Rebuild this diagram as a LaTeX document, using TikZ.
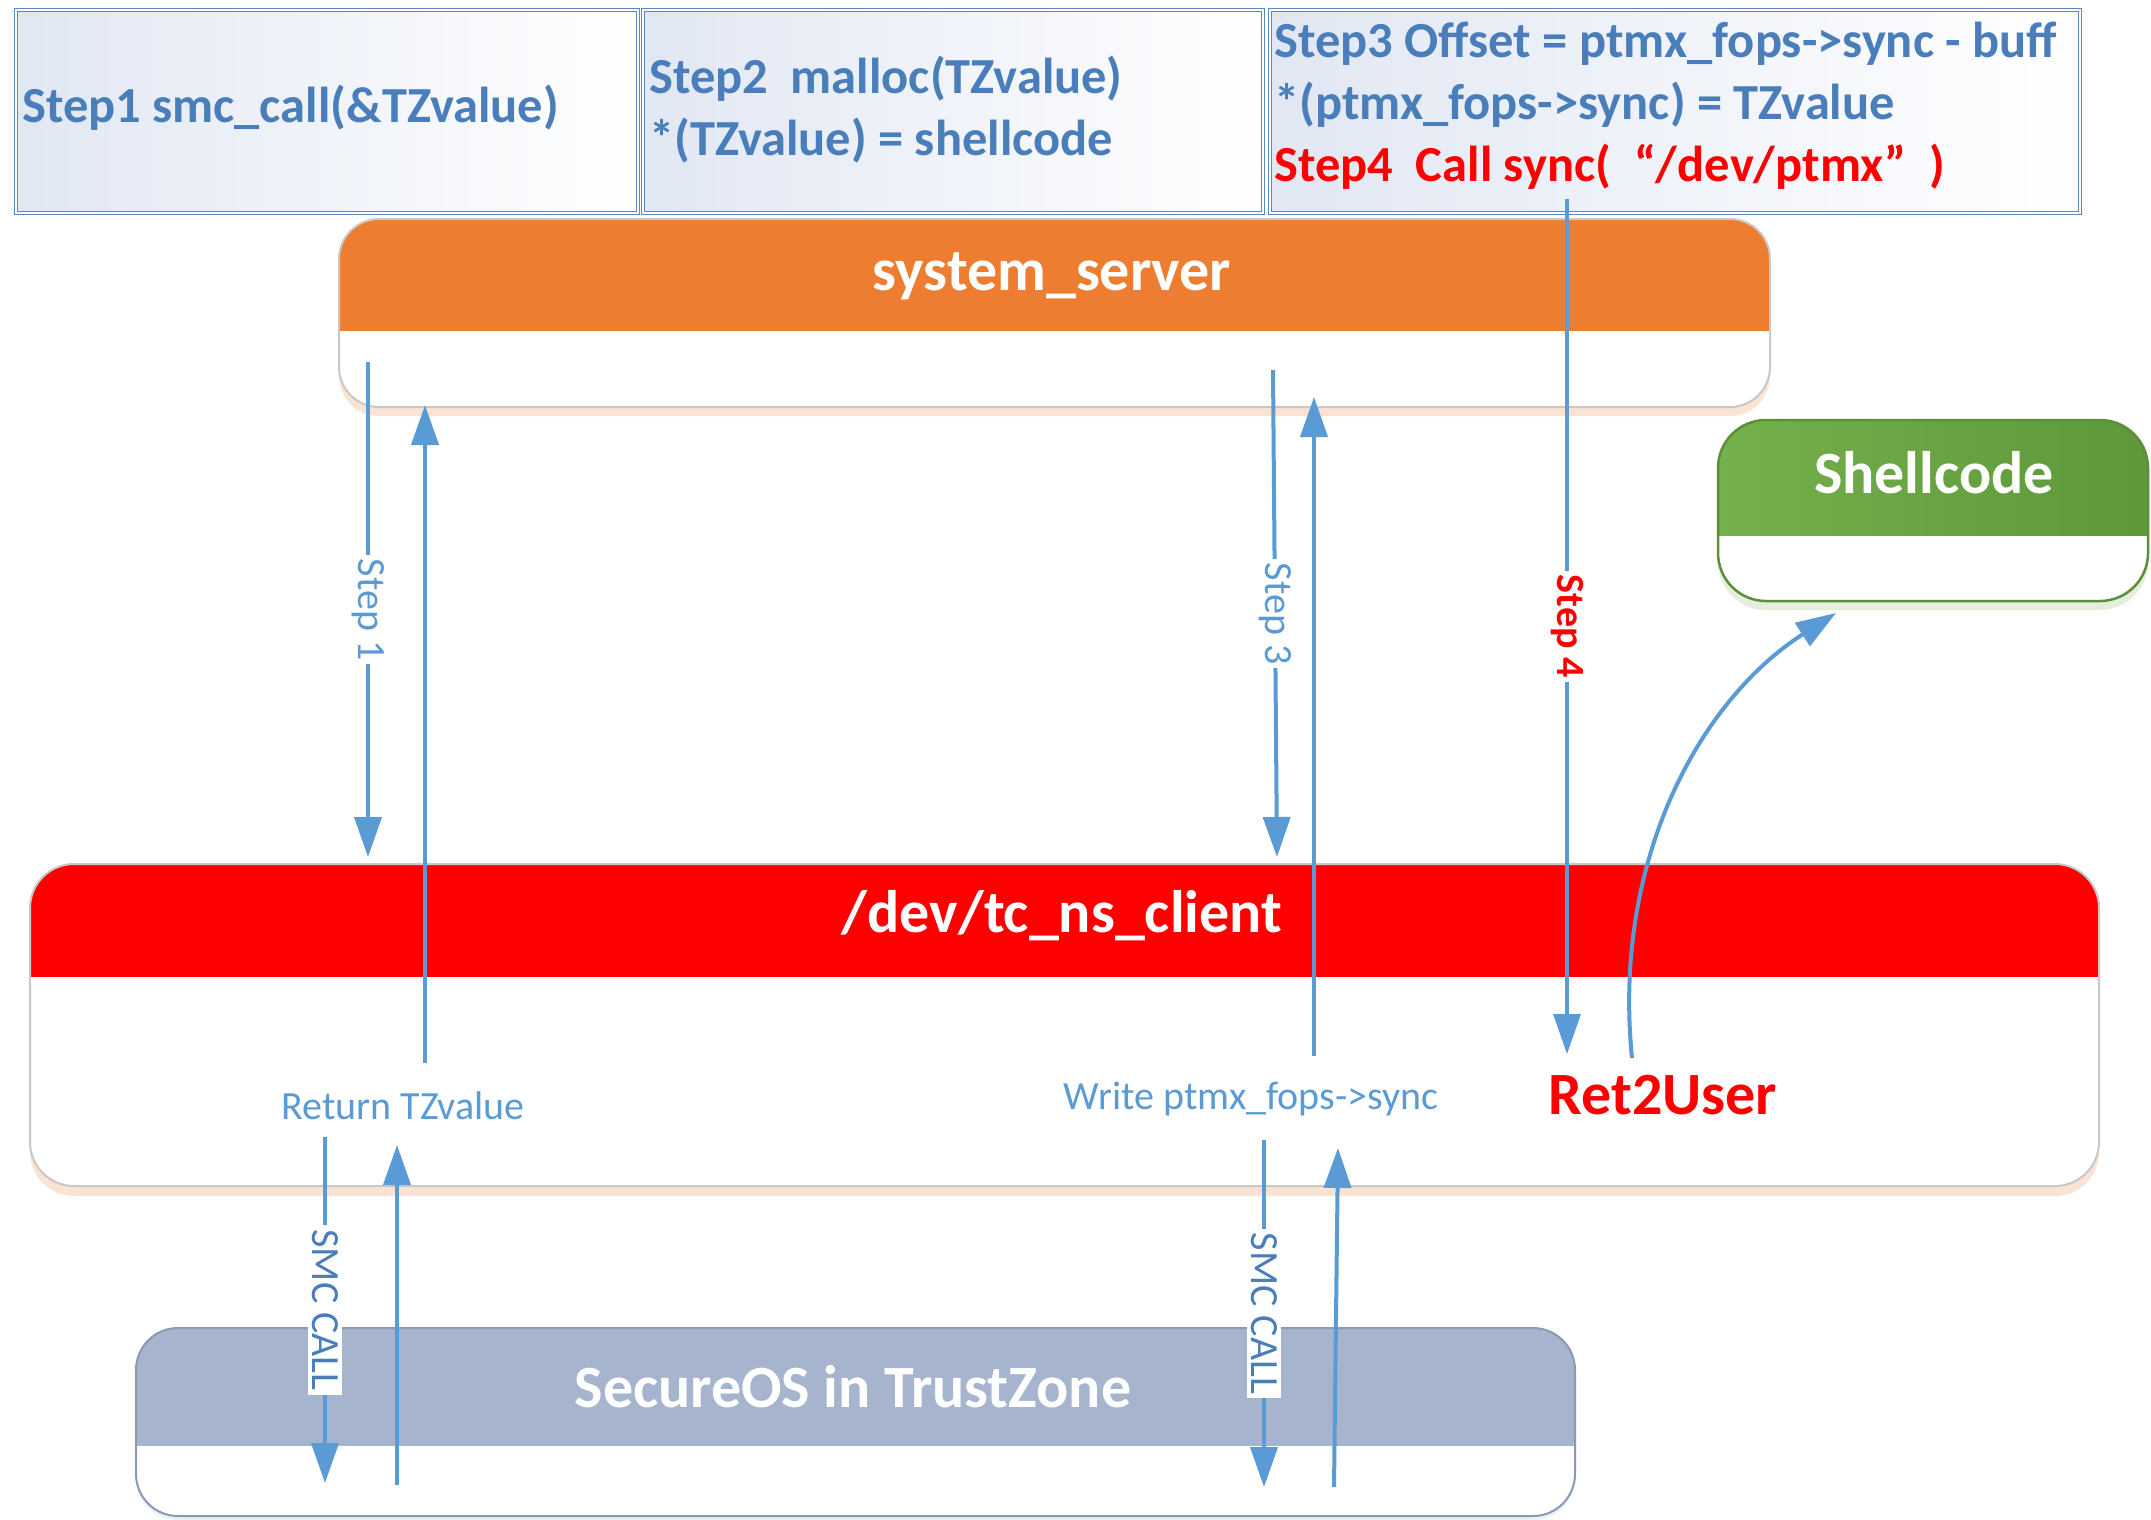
\documentclass[tikz,border=0pt]{standalone}
\usepackage{fontspec}
\setmainfont{Carlito}
\usetikzlibrary{arrows.meta,shadows}
\definecolor{txtblue}{HTML}{4A7EBB}
\definecolor{arrblue}{HTML}{5B9BD5}
\definecolor{boxline}{HTML}{5B88C2}
\definecolor{boxtint}{HTML}{E1E7F3}
\definecolor{orangeH}{HTML}{ED7D31}
\definecolor{redH}{HTML}{FF0000}
\definecolor{greenA}{HTML}{74B04B}
\definecolor{greenB}{HTML}{5E983A}
\definecolor{greenL}{HTML}{5B8F3A}
\definecolor{secH}{HTML}{A6B5CD}
\definecolor{secL}{HTML}{8A9AB3}
\definecolor{panelL}{HTML}{C8C8C8}
\definecolor{glowO}{HTML}{FBE3D4}
\definecolor{glowG}{HTML}{E3EEDC}
\definecolor{glowS}{HTML}{ECEFF4}
\newcommand{\myBig}{\fontsize{60}{72}\selectfont}
\newcommand{\myStep}{\fontsize{50.5}{62}\selectfont}
\newcommand{\mySmall}{\fontsize{40}{48}\selectfont}
\tikzset{
  stepbox/.style={draw=boxline, line width=1.1pt, double=white, double distance=1.8pt,
    left color=boxtint, right color=white, minimum height=203pt, inner sep=0pt, outer sep=0pt},
  panel/.style n args={3}{draw=#1, line width=2pt, fill=white, inner sep=0pt, outer sep=0pt,
    path picture={\fill[#2, sharp corners] (path picture bounding box.north west) rectangle ([yshift=-#3]path picture bounding box.north east);}},
  hdr/.style={font=\myBig\bfseries, text=white, inner sep=0pt},
  steptxt/.style={font=\myStep\bfseries, text=txtblue, align=left, anchor=west, inner sep=0pt},
  arr/.style={draw=arrblue, line width=4pt, -{Triangle[length=40pt,width=27pt]}},
  lbl/.style={fill=white, inner sep=4pt, rotate=-90, font=\mySmall, text=arrblue},
  lblred/.style={fill=white, inner sep=4pt, rotate=-90, font=\mySmall\bfseries, text=redH},
  lblsmc/.style={fill=white, inner sep=4pt, rotate=-90, font=\mySmall, text=txtblue},
  note/.style={font=\mySmall, text=arrblue, inner sep=0pt}
}
\begin{document}
\begin{tikzpicture}[x=1pt,y=-1pt]
\useasboundingbox (0,0) rectangle (2151,1519);
\fill[white] (0,0) rectangle (2151,1519);

% top step boxes
\node[stepbox, minimum width=622pt] (b1) at (327,111.5) {};
\node[stepbox, minimum width=620pt] (b2) at (953,111.5) {};
\node[stepbox, minimum width=810pt] (b3) at (1675,111.5) {};
\node[steptxt] (t1) at (22,108) {Step1 smc\_call(\&TZvalue)};
\node[steptxt] (t2) at (649,110) {Step2\ \ malloc(TZvalue)\\*(TZvalue) = shellcode};
\node[steptxt] (t3) at (1274,106) {Step3 Offset = ptmx\_fops->sync - buff\\*(ptmx\_fops->sync) = TZvalue\\\textcolor{redH}{Step4\ \ Call sync(\ \ “/dev/ptmx”\ \ )}};

% panels
\node[panel={panelL}{orangeH}{112pt}, minimum width=1431pt, minimum height=188pt, rounded corners=40pt,
  drop shadow={shadow xshift=0pt, shadow yshift=-9pt, fill=glowO, opacity=1}] (sys) at (1054.5,313) {};
\node[hdr] (sysT) at (1052,276) {system\_server};

\node[draw=greenL, line width=2.5pt, fill=white, inner sep=0pt, outer sep=0pt, minimum width=430pt, minimum height=181pt, rounded corners=48pt,
  drop shadow={shadow xshift=0pt, shadow yshift=-9pt, fill=glowG, opacity=1},
  path picture={\shade[left color=greenA, right color=greenB, sharp corners] (path picture bounding box.north west) rectangle ([yshift=-115pt]path picture bounding box.north east);}] (shell) at (1933,510.5) {};
\node[hdr] (shellT) at (1934,473) {Shellcode};

\node[panel={panelL}{redH}{113pt}, minimum width=2069pt, minimum height=322pt, rounded corners=44pt,
  drop shadow={shadow xshift=0pt, shadow yshift=-10pt, fill=glowO, opacity=1}] (tc) at (1064.5,1025) {};
\node[hdr] (tcT) at (1062,916) {/dev/tc\_ns\_client};

\node[panel={secL}{secH}{118pt}, minimum width=1439pt, minimum height=188pt, rounded corners=42pt,
  drop shadow={shadow xshift=0pt, shadow yshift=-4pt, fill=glowS, opacity=1}] (sec) at (855.5,1422) {};
\node[hdr] (secT) at (853,1387) {SecureOS in TrustZone};

% texts inside tc
\node[note] (ret) at (403,1106) {Return TZvalue};
\node[note] (wr) at (1251,1099) {Write ptmx\_fops->sync};
\node[font=\myBig\bfseries, text=redH, inner sep=0pt] (r2u) at (1663,1095) {Ret2User};

% coordinates for connector ends
\coordinate (s1a) at (368,362);
\coordinate (u1a) at (425,1063);
\coordinate (s3a) at (1273,370);
\coordinate (u3a) at (1314,1056);
\coordinate (s4a) at (1567,199);
\coordinate (s4b) at (1567,1054);
\coordinate (m1a) at (325,1137);
\coordinate (m1b) at (325,1483);
\coordinate (v1a) at (397,1485);
\coordinate (v1b) at (397,1145);
\coordinate (m2a) at (1264,1140);
\coordinate (m2b) at (1264,1487);
\coordinate (v2a) at (1334,1487);
\coordinate (v2b) at (1338,1148);
\coordinate (cst) at (1632,1058);
\coordinate (cen) at (1836,613);

% connectors
\draw[arr] (s1a) -- node[lbl]{Step 1} ([yshift=7pt]s1a |- tc.north);
\draw[arr] (u1a) -- ([yshift=2pt]u1a |- sys.south);
\draw[arr] (s3a) -- node[lbl]{Step 3} ([xshift=4pt,yshift=7pt]s3a |- tc.north);
\draw[arr] (u3a) -- ([yshift=10pt]u3a |- sys.south);
\draw[arr, line width=3.5pt] (s4a) -- node[lblred]{Step 4} (s4b);
\draw[arr] (m1a) -- node[lblsmc]{SMC CALL} (m1b);
\draw[arr] (v1a) -- (v1b);
\draw[arr] (m2a) -- node[lblsmc]{SMC CALL} (m2b);
\draw[arr] (v2a) -- (v2b);
\draw[arr] (cst) .. controls (1612,860) and (1700,700) .. (cen);
\end{tikzpicture}
\end{document}
